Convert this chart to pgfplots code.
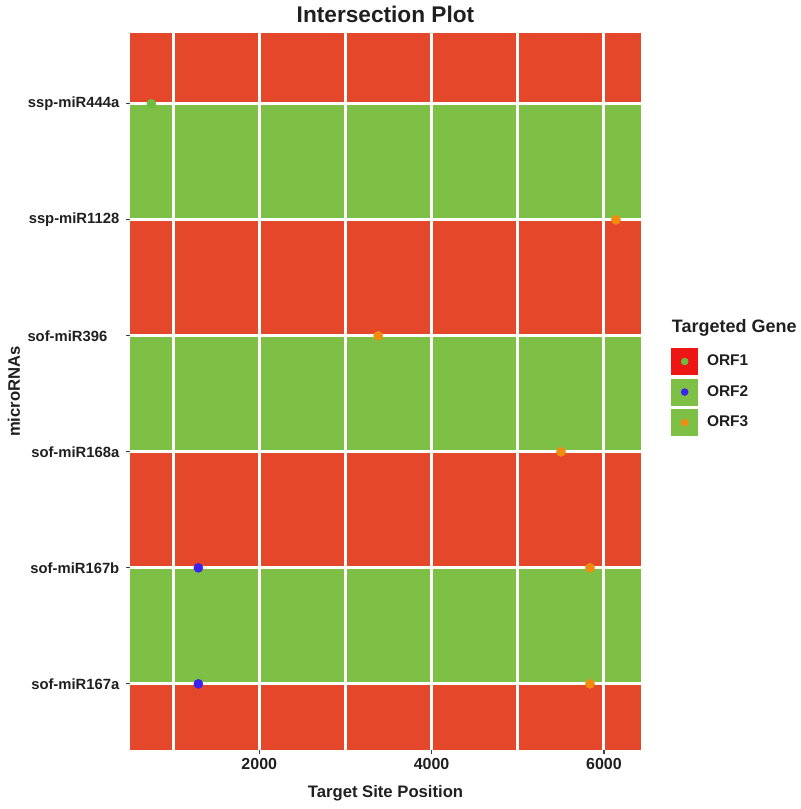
\documentclass[border=0pt]{standalone}
\usepackage{pgfplots}
\pgfplotsset{compat=1.18}
\usepackage{fontspec}
\setmainfont{Liberation Sans}
\definecolor{bandred}{HTML}{E5472A}
\definecolor{bandgreen}{HTML}{7DC045}
\definecolor{ptgreen}{HTML}{6CBF3E}
\definecolor{ptblue}{HTML}{3A22EE}
\definecolor{ptorange}{HTML}{F28C0F}
\definecolor{keyred}{HTML}{EE1515}
\definecolor{txt}{HTML}{1F1F1F}
\begin{document}
\begin{tikzpicture}
\path[use as bounding box] (0,0) rectangle (600pt,606.75pt);
\begin{axis}[
  at={(97.5pt,44.25pt)}, anchor=south west,
  scale only axis, width=383.25pt, height=537.75pt,
  xmin=500, xmax=6430, ymin=-0.57, ymax=5.61,
  xtick={2000,4000,6000}, xticklabels={2000,4000,6000},
  ytick={0,1,2,3,4,5},
  yticklabels={sof-miR167a, sof-miR167b, sof-miR168a, {sof-miR396\kern9pt}, ssp-miR1128, ssp-miR444a},
  xtick pos=left, ytick pos=left,
  tick align=outside, major tick length=3pt,
  tick style={draw=black!75, line width=0.9pt},
  axis line style={draw=none},
  xticklabel style={font=\fontsize{12}{14}\selectfont\bfseries, text=txt},
  yticklabel style={font=\fontsize{11.1}{13}\selectfont\bfseries, text=txt, xshift=-1.5pt},
  clip=false,
  legend style={at={(rel axis cs:1.059,0.5607)}, anchor=north west, draw=none, fill=none,
    font=\fontsize{11.6}{13}\selectfont\bfseries, row sep=3pt, inner sep=0pt, text=txt},
  legend cell align=left,
]
% background bands
\addplot[fill=bandred, draw=none, forget plot] coordinates {(500,-0.57) (6430,-0.57) (6430,0) (500,0)} -- cycle;
\addplot[fill=bandgreen, draw=none, forget plot] coordinates {(500,0) (6430,0) (6430,1) (500,1)} -- cycle;
\addplot[fill=bandred, draw=none, forget plot] coordinates {(500,1) (6430,1) (6430,2) (500,2)} -- cycle;
\addplot[fill=bandgreen, draw=none, forget plot] coordinates {(500,2) (6430,2) (6430,3) (500,3)} -- cycle;
\addplot[fill=bandred, draw=none, forget plot] coordinates {(500,3) (6430,3) (6430,4) (500,4)} -- cycle;
\addplot[fill=bandgreen, draw=none, forget plot] coordinates {(500,4) (6430,4) (6430,5) (500,5)} -- cycle;
\addplot[fill=bandred, draw=none, forget plot] coordinates {(500,5) (6430,5) (6430,5.61) (500,5.61)} -- cycle;
% white grid lines
\addplot[white, line width=2.25pt, forget plot] coordinates {(1000,-0.57) (1000,5.61)};
\addplot[white, line width=2.25pt, forget plot] coordinates {(2000,-0.57) (2000,5.61)};
\addplot[white, line width=2.25pt, forget plot] coordinates {(3000,-0.57) (3000,5.61)};
\addplot[white, line width=2.25pt, forget plot] coordinates {(4000,-0.57) (4000,5.61)};
\addplot[white, line width=2.25pt, forget plot] coordinates {(5000,-0.57) (5000,5.61)};
\addplot[white, line width=2.25pt, forget plot] coordinates {(6000,-0.57) (6000,5.61)};
\addplot[white, line width=2.25pt, forget plot] coordinates {(500,0) (6430,0)};
\addplot[white, line width=2.25pt, forget plot] coordinates {(500,1) (6430,1)};
\addplot[white, line width=2.25pt, forget plot] coordinates {(500,2) (6430,2)};
\addplot[white, line width=2.25pt, forget plot] coordinates {(500,3) (6430,3)};
\addplot[white, line width=2.25pt, forget plot] coordinates {(500,4) (6430,4)};
\addplot[white, line width=2.25pt, forget plot] coordinates {(500,5) (6430,5)};
% points
\addplot[only marks, mark=*, mark size=3.4pt, color=ptgreen, forget plot] coordinates {(748,5)};
\addplot[only marks, mark=*, mark size=3.4pt, color=ptblue, forget plot] coordinates {(1293,1) (1293,0)};
\addplot[only marks, mark=*, mark size=3.4pt, color=ptorange, forget plot] coordinates {(6139,4) (3380,3) (5502,2) (5838,1) (5838,0)};
% legend
\addlegendimage{legend image code/.code={\fill[keyred] (0pt,-9.75pt) rectangle (19.5pt,9.75pt); \fill[ptgreen] (9.75pt,0pt) circle (2.6pt); \path[draw=none,fill=none] (19.5pt,0pt) rectangle (24.5pt,0.1pt);}}
\addlegendentry{ORF1}
\addlegendimage{legend image code/.code={\fill[bandgreen] (0pt,-9.75pt) rectangle (19.5pt,9.75pt); \fill[ptblue] (9.75pt,0pt) circle (2.6pt); \path[draw=none,fill=none] (19.5pt,0pt) rectangle (24.5pt,0.1pt);}}
\addlegendentry{ORF2}
\addlegendimage{legend image code/.code={\fill[bandgreen] (0pt,-9.75pt) rectangle (19.5pt,9.75pt); \fill[ptorange] (9.75pt,0pt) circle (2.6pt); \path[draw=none,fill=none] (19.5pt,0pt) rectangle (24.5pt,0.1pt);}}
\addlegendentry{ORF3}
% titles
\node[font=\fontsize{17}{20}\selectfont\bfseries, text=txt] at ([yshift=14.25pt]rel axis cs:0.5,1) {Intersection Plot};
\node[font=\fontsize{12.5}{15}\selectfont\bfseries, text=txt] at ([yshift=-32.25pt]rel axis cs:0.5,0) {Target Site Position};
\node[rotate=90, font=\fontsize{12.5}{15}\selectfont\bfseries, text=txt] at ([xshift=-87pt]rel axis cs:0,0.5) {microRNAs};
\node[anchor=west, font=\fontsize{13.5}{16}\selectfont\bfseries, text=txt] at ([xshift=-3pt]rel axis cs:1.059,0.589) {Targeted Gene};
\end{axis}
\end{tikzpicture}
\end{document}
